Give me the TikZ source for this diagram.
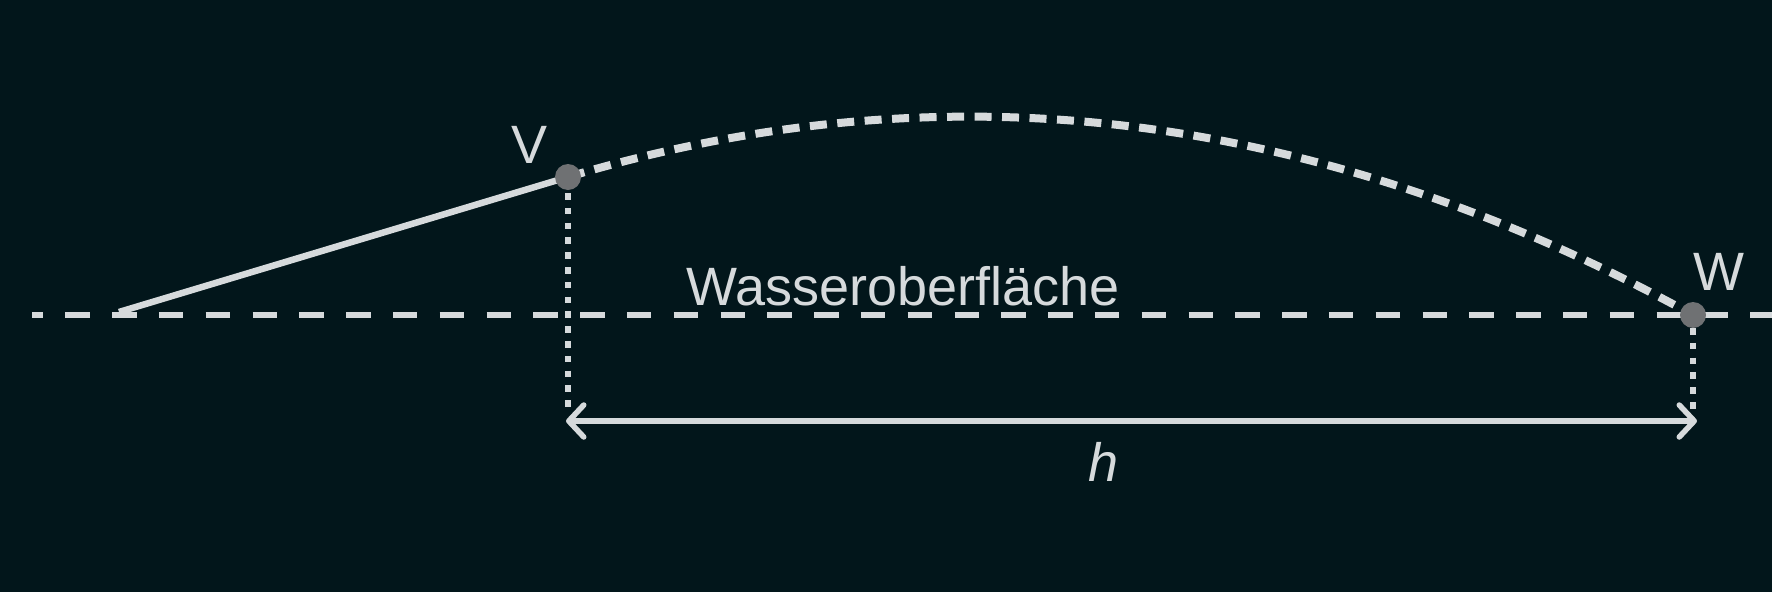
\documentclass[tikz,border=0pt]{standalone}
\usepackage{fontspec}
\setmainfont{Liberation Sans}
\usetikzlibrary{arrows.meta}
\definecolor{bg}{HTML}{02161B}
\definecolor{ln}{HTML}{D6DADC}
\definecolor{dotc}{HTML}{6F7173}
\begin{document}
\begin{tikzpicture}[x=1pt,y=-1pt,
  lbl/.style={text=ln,font=\fontsize{54}{60}\selectfont,inner sep=0pt,anchor=base},
  ptdot/.style={circle,fill=dotc,minimum size=26pt,inner sep=0pt},
  water/.style={draw=ln,line width=5.5pt,dash pattern=on 24.5pt off 22.3pt,dash phase=13.5pt},
  solidline/.style={draw=ln,line width=6.5pt},
  traj/.style={draw=ln,line width=8pt,dash pattern=on 17pt off 10.5pt},
  drop/.style={draw=ln,line width=6.5pt,dash pattern=on 6.5pt off 8.3pt},
  dimline/.style={draw=ln,line width=5.5pt,{Straight Barb[length=15pt,width=32pt,round]}-{Straight Barb[length=15pt,width=32pt,round]}}
]
\fill[bg] (0,0) rectangle (1772,592);
\useasboundingbox (0,0) rectangle (1772,592);
% key points
\coordinate (V) at (568,177);
\coordinate (W) at (1693,315);
\coordinate (S) at (119,312);
\coordinate (L0) at (32,315);
\coordinate (L1) at (1772,315);
\coordinate (A1) at (566,421);
\coordinate (A2) at (1697,421);
\coordinate (D1) at (568,410);
\coordinate (D2) at (1693,410);
% water surface
\draw[water] (L0) -- (L1);
% ramp
\draw[solidline] (S) -- (V);
% trajectory
\draw[traj] (V) .. controls (968,57) and (1343,122.5) .. (W);
% drop lines
\draw[drop] ([yshift=-16pt]V) -- (D1);
\draw[drop] ([yshift=-13pt]W) -- (D2);
% dimension arrow
\draw[dimline] (A1) -- (A2);
% points
\node[ptdot] (Vdot) at (V) {};
\node[ptdot] (Wdot) at (W) {};
% labels
\node[lbl] (Vlab) at (530,163) {V};
\node[lbl] (Wlab) at (1719,290) {W};
\node[lbl] (surf) at (903,305) {Wasseroberfläche};
\node[lbl] (hlab) at (1104,481) {\itshape h};
\end{tikzpicture}
\end{document}
